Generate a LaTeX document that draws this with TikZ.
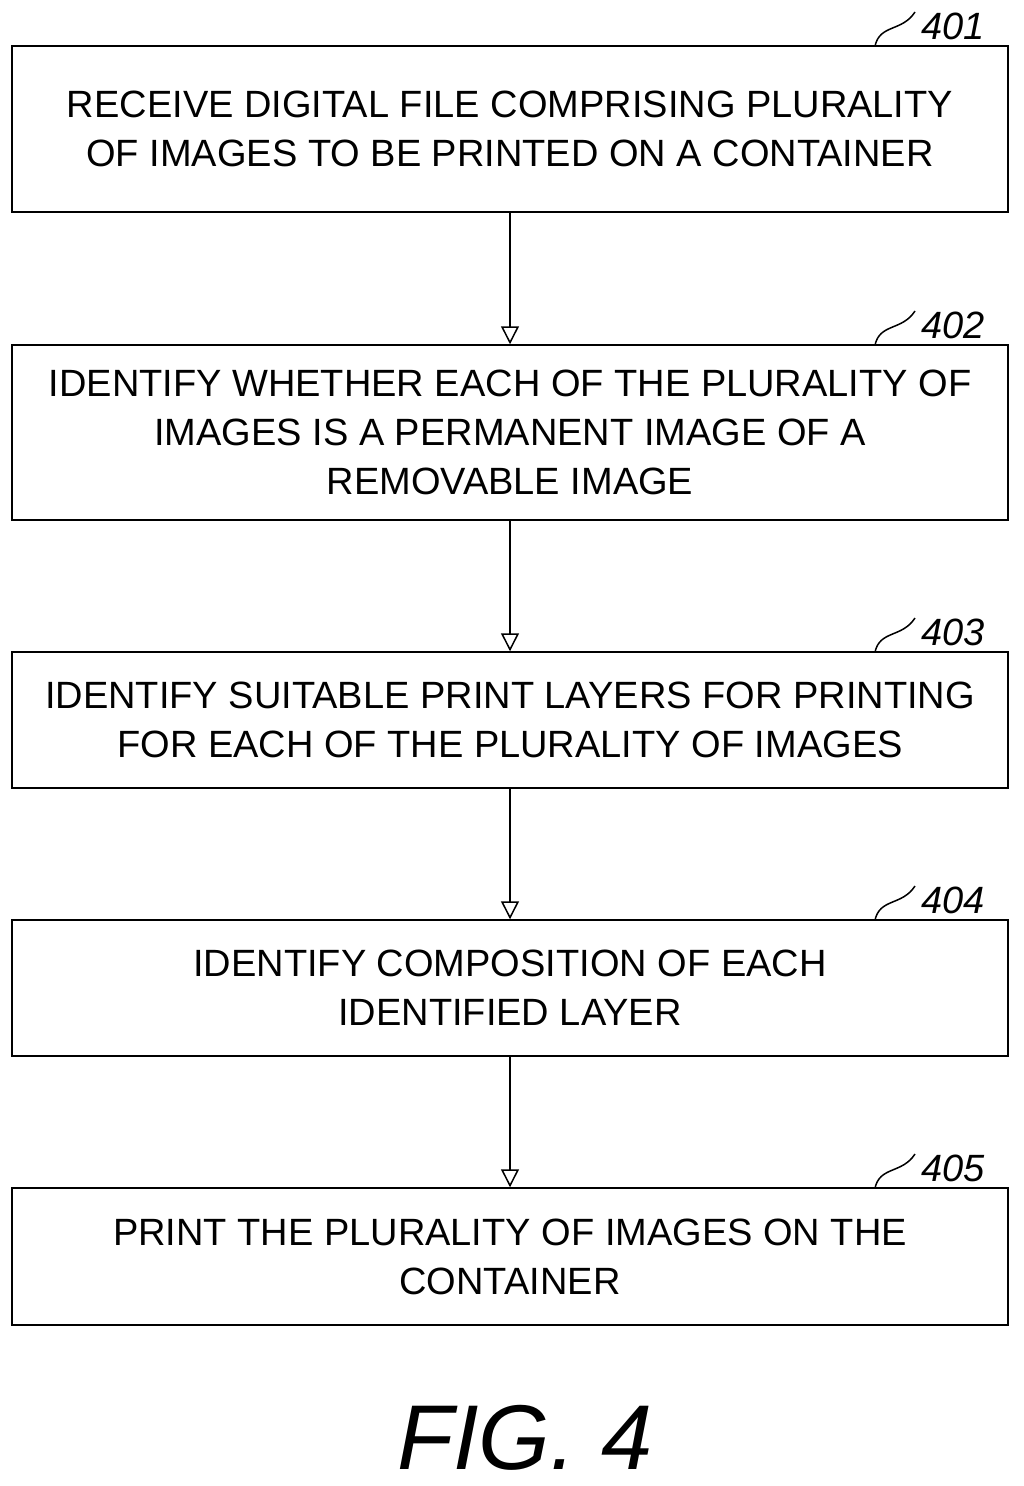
\documentclass[tikz,border=0pt]{standalone}
\usepackage{fontspec}
\setmainfont{Liberation Sans}
\usetikzlibrary{arrows.meta}
\begin{document}
\begin{tikzpicture}[x=1pt,y=-1pt,
  stepbox/.style={draw,line width=1.5pt,minimum width=996pt,align=center,inner sep=0pt,
    font=\fontsize{38}{49}\selectfont},
  conn/.style={line width=1.5pt,-{Triangle[open,length=18pt,width=18pt]}},
  lbl/.style={font=\fontsize{38}{40}\selectfont\itshape,anchor=west},
  lead/.style={line width=1.5pt}]
\useasboundingbox (0,0) rectangle (1024,1486);
\node[stepbox,minimum height=166pt] (b1) at (510,129) {RECEIVE DIGITAL FILE COMPRISING PLURALITY\\OF IMAGES TO BE PRINTED ON A CONTAINER};
\node[stepbox,minimum height=175pt] (b2) at (510,432.5) {IDENTIFY WHETHER EACH OF THE PLURALITY OF\\IMAGES IS A PERMANENT IMAGE OF A\\REMOVABLE IMAGE};
\node[stepbox,minimum height=136pt] (b3) at (510,720) {IDENTIFY SUITABLE PRINT LAYERS FOR PRINTING\\FOR EACH OF THE PLURALITY OF IMAGES};
\node[stepbox,minimum height=136pt] (b4) at (510,988) {IDENTIFY COMPOSITION OF EACH\\IDENTIFIED LAYER};
\node[stepbox,minimum height=137pt] (b5) at (510,1256.5) {PRINT THE PLURALITY OF IMAGES ON THE\\CONTAINER};
\draw[conn] (b1) -- (b2);
\draw[conn] (b2) -- (b3);
\draw[conn] (b3) -- (b4);
\draw[conn] (b4) -- (b5);
\foreach \n/\t/\y in {1/401/46,2/402/345,3/403/652,4/404/920,5/405/1188}{
  \coordinate (s\n) at (875,\y);
  \coordinate (e\n) at (915,\y-34);
  \draw[lead] (s\n) .. controls (880,\y-22) and (902,\y-14) .. (e\n);
  \node[lbl] (l\n) at (918,\y-20) {\t};
}
\node[font=\fontsize{92}{96}\selectfont\itshape,inner sep=0pt] (fig) at (525,1438) {FIG. 4};
\end{tikzpicture}
\end{document}
